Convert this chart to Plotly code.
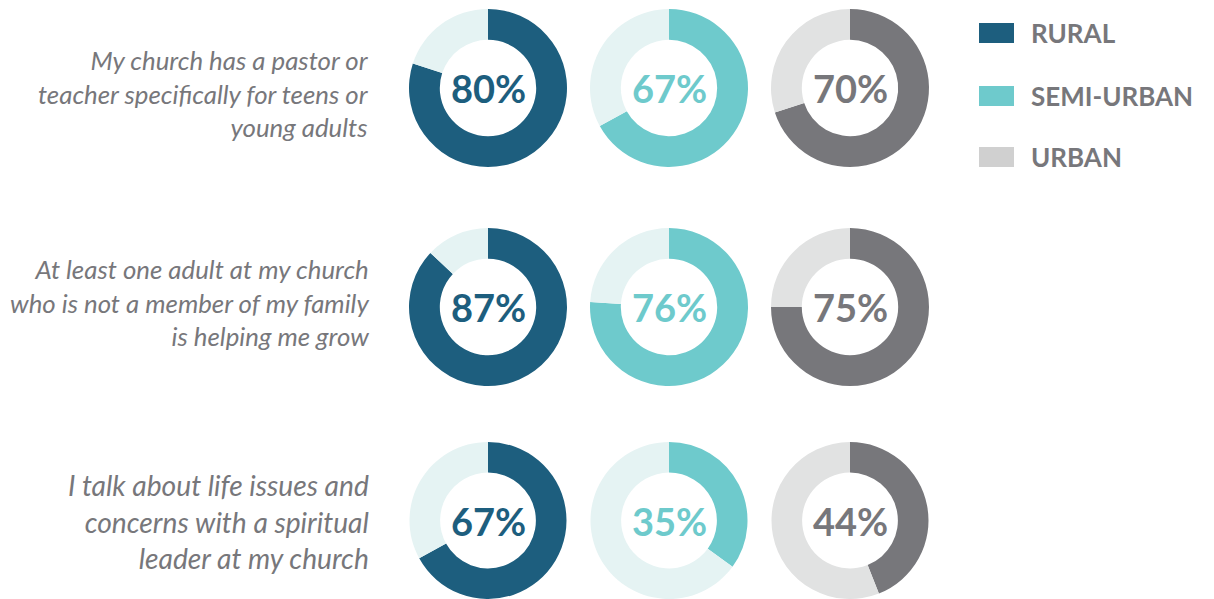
import plotly.graph_objects as go

W, H = 1214, 599

statements = [
    "My church has a pastor or<br>teacher specifically for teens or<br>young adults",
    "At least one adult at my church<br>who is not a member of my family<br>is helping me grow",
    "I talk about life issues and<br>concerns with a spiritual<br>leader at my church",
]
groups = ["RURAL", "SEMI-URBAN", "URBAN"]
rural = [80, 87, 67]
semi_urban = [67, 76, 35]
urban = [70, 75, 44]

group_colors = ["#1d5e7e", "#6ecacc", "#77777b"]
rest_colors = ["#e5f3f3", "#e5f3f3", "#e1e2e2"]
legend_colors = ["#1d5e7e", "#6ecacc", "#d0d0d0"]
text_grey = "#77777b"

# pixel layout of the donut grid
col_x = [488, 669, 850]
row_y = [88, 307, 521]
label_y = [93, 302, 521]
label_size = [25.8, 25.8, 28.2]
radius = 79

fig = go.Figure()

for i, statement in enumerate(statements):
    for j, values in enumerate([rural, semi_urban, urban]):
        v = values[i]
        cx, cy = col_x[j], row_y[i]
        x0 = max(0, (cx - radius) / W)
        x1 = min(1, (cx + radius) / W)
        y0 = max(0, 1 - (cy + radius) / H)
        y1 = min(1, 1 - (cy - radius) / H)
        fig.add_trace(go.Pie(
            values=[v, 100 - v],
            marker=dict(colors=[group_colors[j], rest_colors[j]], line=dict(width=0)),
            hole=0.61,
            sort=False,
            direction="clockwise",
            rotation=0,
            textinfo="none",
            hoverinfo="skip",
            showlegend=False,
            domain=dict(x=[x0, x1], y=[y0, y1]),
        ))
        fig.add_annotation(
            x=cx / W, y=1 - cy / H, xref="paper", yref="paper",
            text=f"<b>{v}%</b>", showarrow=False,
            font=dict(family="Lato", size=38, color=group_colors[j]),
            xanchor="center", yanchor="middle",
        )
    fig.add_annotation(
        x=371 / W, y=1 - label_y[i] / H, xref="paper", yref="paper",
        text=statement, showarrow=False, align="right",
        xanchor="right", yanchor="middle",
        font=dict(family="Lato", size=label_size[i], color=text_grey, style="italic"),
    )

# legend built from shapes + labels
legend_y = [33, 96, 157]
for k, g in enumerate(groups):
    ly = legend_y[k]
    fig.add_shape(
        type="rect", xref="paper", yref="paper",
        x0=979 / W, x1=1014 / W, y0=1 - (ly + 10) / H, y1=1 - (ly - 10) / H,
        fillcolor=legend_colors[k], line=dict(width=0),
    )
    fig.add_annotation(
        x=1029 / W, y=1 - ly / H, xref="paper", yref="paper",
        text=f"<b>{g}</b>", showarrow=False,
        xanchor="left", yanchor="middle",
        font=dict(family="Lato", size=26, color=text_grey),
    )

fig.update_layout(
    width=W, height=H,
    margin=dict(l=0, r=0, t=0, b=0),
    paper_bgcolor="white",
    plot_bgcolor="white",
)

fig.write_html("out.html", config={"displayModeBar": False},
               post_script="document.body.style.margin='0';")
